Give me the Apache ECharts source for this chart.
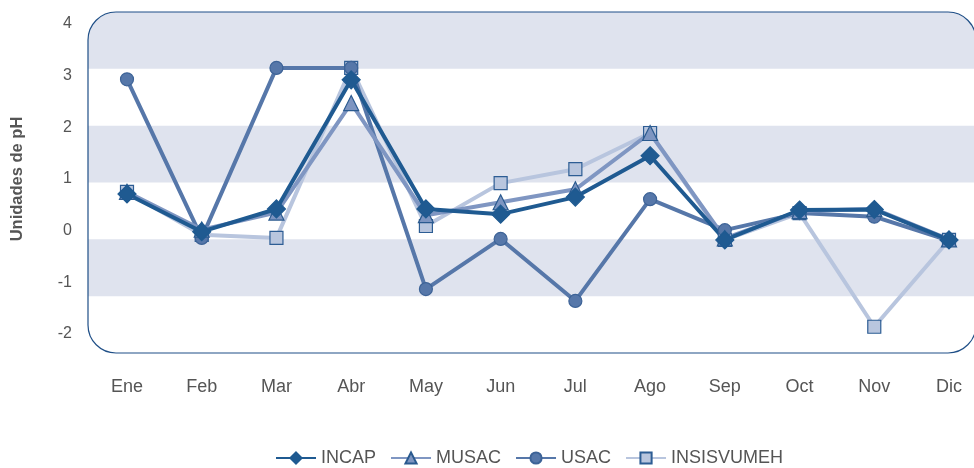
<!DOCTYPE html>
<html>
<head>
<meta charset="utf-8">
<script src="https://cdn.jsdelivr.net/npm/echarts@6/dist/echarts.min.js"></script>
<style>
    html, body { margin: 0; padding: 0; background: #ffffff; }
    #chart { width: 974px; height: 468px; }
</style>
</head>
<body>
<div id="chart"></div>
<script>
const MONTHS = ['Ene', 'Feb', 'Mar', 'Abr', 'May', 'Jun', 'Jul', 'Ago', 'Sep', 'Oct', 'Nov', 'Dic'];
const INCAP = [0.71, -0.02, 0.42, 2.92, 0.42, 0.32, 0.65, 1.45, -0.18, 0.40, 0.41, -0.18];
const MUSAC = [0.75, 0.02, 0.35, 2.47, 0.30, 0.55, 0.80, 1.89, -0.15, 0.38, 0.42, -0.17];
const USAC = [2.93, -0.14, 3.15, 3.15, -1.13, -0.16, -1.36, 0.61, 0.01, 0.34, 0.27, -0.19];
const INSISVUMEH = [0.75, -0.08, -0.14, 3.15, 0.09, 0.92, 1.19, 1.89, -0.18, 0.34, -1.86, -0.18];
const Y_TICKS = [-2, -1, 0, 1, 2, 3, 4];

const FONT = 'Liberation Sans, Arial, sans-serif';
const TEXT_COLOR = '#555555';
const BAND_COLOR = '#dfe3ee';
const BORDER_COLOR = '#1f4f87';

let chart = echarts.init(document.getElementById('chart'), null, { renderer: 'canvas' });

/* Rounded plot frame with six horizontal stripes, drawn behind the series. */
const BOX = { x: 88, y: 12, w: 888, h: 341, r: 28 };
let bandH = BOX.h / 6;
let backdrop = [];
backdrop.push({
    type: 'rect',
    shape: { x: BOX.x, y: BOX.y, width: BOX.w, height: BOX.h, r: BOX.r },
    style: { fill: '#ffffff' },
    z: -10
});
for (let i = 0; i < 6; i += 2) {
    let top = BOX.y + i * bandH;
    let rr = [0, 0, 0, 0];
    if (i === 0) rr = [BOX.r, BOX.r, 0, 0];
    backdrop.push({
        type: 'rect',
        shape: { x: BOX.x, y: top, width: BOX.w, height: bandH, r: rr },
        style: { fill: BAND_COLOR },
        z: -9
    });
}
backdrop.push({
    type: 'rect',
    shape: { x: BOX.x, y: BOX.y, width: BOX.w, height: BOX.h, r: BOX.r },
    style: { fill: 'none', stroke: BORDER_COLOR, lineWidth: 1.2 },
    z: -8
});

function makeSeries(name, data, symbol, size, lineColor, fill, border, width) {
    return {
        name: name,
        type: 'line',
        data: data,
        symbol: symbol,
        symbolSize: size,
        showAllSymbol: true,
        lineStyle: { color: lineColor, width: width },
        itemStyle: { color: fill, borderColor: border, borderWidth: 1.2 },
        emphasis: { disabled: true },
        animation: false
    };
}

let options = {
    animation: false,
    graphic: { elements: backdrop },
    grid: {
        left: 127,
        right: 25,
        top: 24,
        bottom: 134,
        containLabel: false,
        outerBoundsMode: 'none'
    },
    legend: {
        bottom: -4,
        left: 270,
        itemWidth: 40,
        itemHeight: 14,
        itemGap: 14,
        textStyle: { fontFamily: FONT, fontSize: 18, color: TEXT_COLOR },
        data: ['INCAP', 'MUSAC', 'USAC', 'INSISVUMEH']
    },
    xAxis: {
        type: 'category',
        boundaryGap: false,
        data: MONTHS,
        axisLine: { show: false },
        axisTick: { show: false },
        splitLine: { show: false },
        axisLabel: {
            margin: 44,
            fontFamily: FONT,
            fontSize: 18,
            color: TEXT_COLOR
        }
    },
    yAxis: {
        type: 'value',
        min: Y_TICKS[0],
        max: Y_TICKS[Y_TICKS.length - 1],
        interval: 1,
        name: 'Unidades de pH',
        nameLocation: 'middle',
        nameGap: 101,
        nameTextStyle: { fontFamily: FONT, fontSize: 16.5, fontWeight: 'bold', color: TEXT_COLOR },
        axisLine: { show: false },
        axisTick: { show: false },
        splitLine: { show: false },
        axisLabel: {
            margin: 55,
            fontFamily: FONT,
            fontSize: 16,
            color: TEXT_COLOR
        }
    },
    series: [
        makeSeries('INSISVUMEH', INSISVUMEH, 'rect', 13, '#b8c5de', '#b9c6de', '#2d5d94', 4),
        makeSeries('USAC', USAC, 'circle', 13, '#5677a9', '#5677a9', '#3d6397', 4),
        makeSeries('MUSAC', MUSAC, 'triangle', 15, '#7f96c2', '#7d95c1', '#2a5a8f', 4),
        makeSeries('INCAP', INCAP, 'diamond', 18, '#1f5a91', '#1f5a91', '#1f5a91', 4)
    ]
};

chart.setOption(options);

window.addEventListener('resize', function () {
    chart.resize();
});
</script>
</body>
</html>
